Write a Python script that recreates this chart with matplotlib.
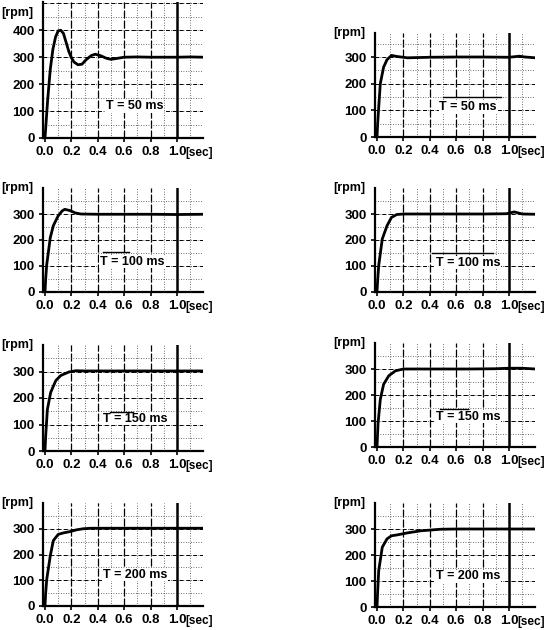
import numpy as np
import matplotlib
matplotlib.use("Agg")
import matplotlib.pyplot as plt
from matplotlib.transforms import offset_copy

# step responses, left column (a) and right column (b), T = 50/100/150/200 ms
labels = ["T = 50 ms", "T = 100 ms", "T = 150 ms", "T = 200 ms"]

t_50a = [0.0, 0.01, 0.02, 0.04, 0.06, 0.08, 0.10, 0.12, 0.14, 0.16, 0.18, 0.20, 0.22, 0.25, 0.28,
         0.31, 0.35, 0.38, 0.42, 0.46, 0.50, 0.55, 0.60, 0.70, 0.80, 0.90, 1.00, 1.10, 1.20]
rpm_50a = [0, 70, 140, 255, 330, 375, 398, 400, 388, 355, 322, 298, 282, 272, 274,
           290, 306, 311, 306, 297, 292, 296, 300, 301, 300, 300, 300, 301, 300]

t_50b = [0.0, 0.005, 0.013, 0.025, 0.05, 0.076, 0.11, 0.15, 0.23, 0.4, 0.6, 0.8, 1.0, 1.08, 1.12, 1.2]
rpm_50b = [0, 50, 112, 200, 262, 290, 306, 302, 297, 299, 300, 300, 299, 303, 300, 297]

t_100a = [0.0, 0.005, 0.013, 0.04, 0.063, 0.10, 0.13, 0.15, 0.19, 0.23, 0.27, 0.4, 0.6, 0.8, 1.0, 1.2]
rpm_100a = [0, 50, 105, 209, 255, 293, 312, 318, 313, 304, 300, 299, 299, 299, 298, 299]

t_100b = [0.0, 0.005, 0.013, 0.04, 0.076, 0.11, 0.15, 0.2, 0.4, 0.6, 0.8, 0.98, 1.04, 1.1, 1.2]
rpm_100b = [0, 45, 102, 204, 255, 287, 298, 300, 300, 300, 300, 301, 308, 300, 299]

t_150a = [0.0, 0.005, 0.018, 0.043, 0.082, 0.12, 0.18, 0.235, 0.3, 0.5, 0.7, 0.9, 1.0, 1.2]
rpm_150a = [0, 55, 157, 221, 266, 285, 298, 303, 302, 302, 302, 302, 302, 302]

t_150b = [0.0, 0.008, 0.025, 0.05, 0.089, 0.14, 0.2, 0.3, 0.5, 0.7, 0.9, 1.0, 1.1, 1.2]
rpm_150b = [0, 91, 183, 241, 274, 293, 300, 300, 300, 300, 301, 303, 303, 300]

t_200a = [0.0, 0.005, 0.013, 0.04, 0.063, 0.10, 0.14, 0.19, 0.24, 0.29, 0.35, 0.42, 0.6, 0.8, 1.0, 1.2]
rpm_200a = [0, 50, 103, 195, 254, 278, 284, 289, 296, 300, 302, 302, 302, 302, 302, 302]

t_200b = [0.0, 0.005, 0.013, 0.04, 0.076, 0.11, 0.15, 0.23, 0.33, 0.48, 0.6, 0.8, 1.0, 1.2]
rpm_200b = [0, 60, 140, 230, 262, 274, 277, 285, 293, 299, 300, 300, 300, 300]

curves = [(t_50a, rpm_50a), (t_50b, rpm_50b), (t_100a, rpm_100a), (t_100b, rpm_100b),
          (t_150a, rpm_150a), (t_150b, rpm_150b), (t_200a, rpm_200a), (t_200b, rpm_200b)]

# axes boxes in pixels: (x of t=0, bottom, top, ymax)
W, H = 545, 630
boxes = [(45, 138, 2, 505), (377, 137, 33, 390),
         (45, 292, 188, 400), (377, 292, 188, 400),
         (45, 451, 345, 400), (377, 447, 343, 400),
         (45, 606, 503, 400), (377, 607, 503, 400)]
px_per_sec = 132
x_lo, x_hi = -0.015, 1.2

# label positions (x, y) and overline (x0, x1, y)
text_pos = [(0.68, 118), (0.69, 112), (0.66, 117), (0.69, 113),
            (0.68, 122), (0.69, 117), (0.68, 122), (0.69, 118)]
overlines = [None, (0.50, 0.94, 150), (0.44, 0.64, 152), (0.42, 0.88, 150),
             (0.49, 0.67, 146), (0.48, 0.69, 148), None, None]

plt.rcParams['font.family'] = ['Liberation Sans', 'DejaVu Sans']
plt.rcParams['font.weight'] = 'bold'

fig = plt.figure(figsize=(W / 100, H / 100), dpi=100)

for i, ((x0, yb, yt, ymax), (t, rpm)) in enumerate(zip(boxes, curves)):
    left = x0 + x_lo * px_per_sec
    width = (x_hi - x_lo) * px_per_sec
    ax = fig.add_axes([left / W, 1 - yb / H, width / W, (yb - yt) / H])
    ax.set_xlim(x_lo, x_hi)
    ax.set_ylim(0, ymax)

    # oscilloscope style grid
    for gx in np.arange(0.1, 1.2, 0.1):
        ax.axvline(gx, color='0.25', lw=0.6, ls=(0, (1, 2)), zorder=1)
    for gx in [0.2, 0.4, 0.6, 0.8]:
        ax.axvline(gx, color='k', lw=0.9, ls=(0, (6, 2)), zorder=1)
    ax.axvline(1.0, color='k', lw=1.8, zorder=1)
    for gy in np.arange(50, ymax, 50):
        ax.axhline(gy, color='0.25', lw=0.6, ls=(0, (1, 2)), zorder=1)
    for gy in np.arange(100, ymax, 100):
        ax.axhline(gy, color='k', lw=0.7, ls=(0, (4, 3)), zorder=1)

    ax.plot(t, rpm, color='k', lw=2.0, zorder=3)

    for s in ['top', 'right']:
        ax.spines[s].set_visible(False)
    for s in ['left', 'bottom']:
        ax.spines[s].set_linewidth(1.6)

    ax.set_xticks([0.0, 0.2, 0.4, 0.6, 0.8, 1.0])
    ax.set_xticklabels(['0.0', '0.2', '0.4', '0.6', '0.8', '1.0'])
    yt_vals = [0, 100, 200, 300] + ([400] if ymax > 450 else [])
    ax.set_yticks(yt_vals)
    ax.tick_params(length=3, width=1.2, labelsize=9.5, pad=3)
    for lab in ax.get_xticklabels() + ax.get_yticklabels():
        lab.set_fontweight('bold')

    ax.text(1.062, 0, '[sec]', fontsize=8.5, fontweight='bold', ha='left', va='top',
            transform=offset_copy(ax.get_xaxis_transform(), fig, y=-6.5, units='points'))
    ry = 0.92 if i == 0 else 1.0
    ax.text(-0.06, ry, '[rpm]', fontsize=9, fontweight='bold', ha='right', va='center',
            transform=ax.transAxes)

    tx, ty = text_pos[i]
    ax.text(tx, ty, labels[i // 2], fontsize=9, fontweight='bold', ha='center', va='center',
            zorder=4, bbox=dict(facecolor='white', edgecolor='none', pad=0.5))
    if overlines[i] is not None:
        a, b, y = overlines[i]
        ax.plot([a, b], [y, y], color='k', lw=1.0, zorder=4)

fig.savefig('out.png', dpi=100)
